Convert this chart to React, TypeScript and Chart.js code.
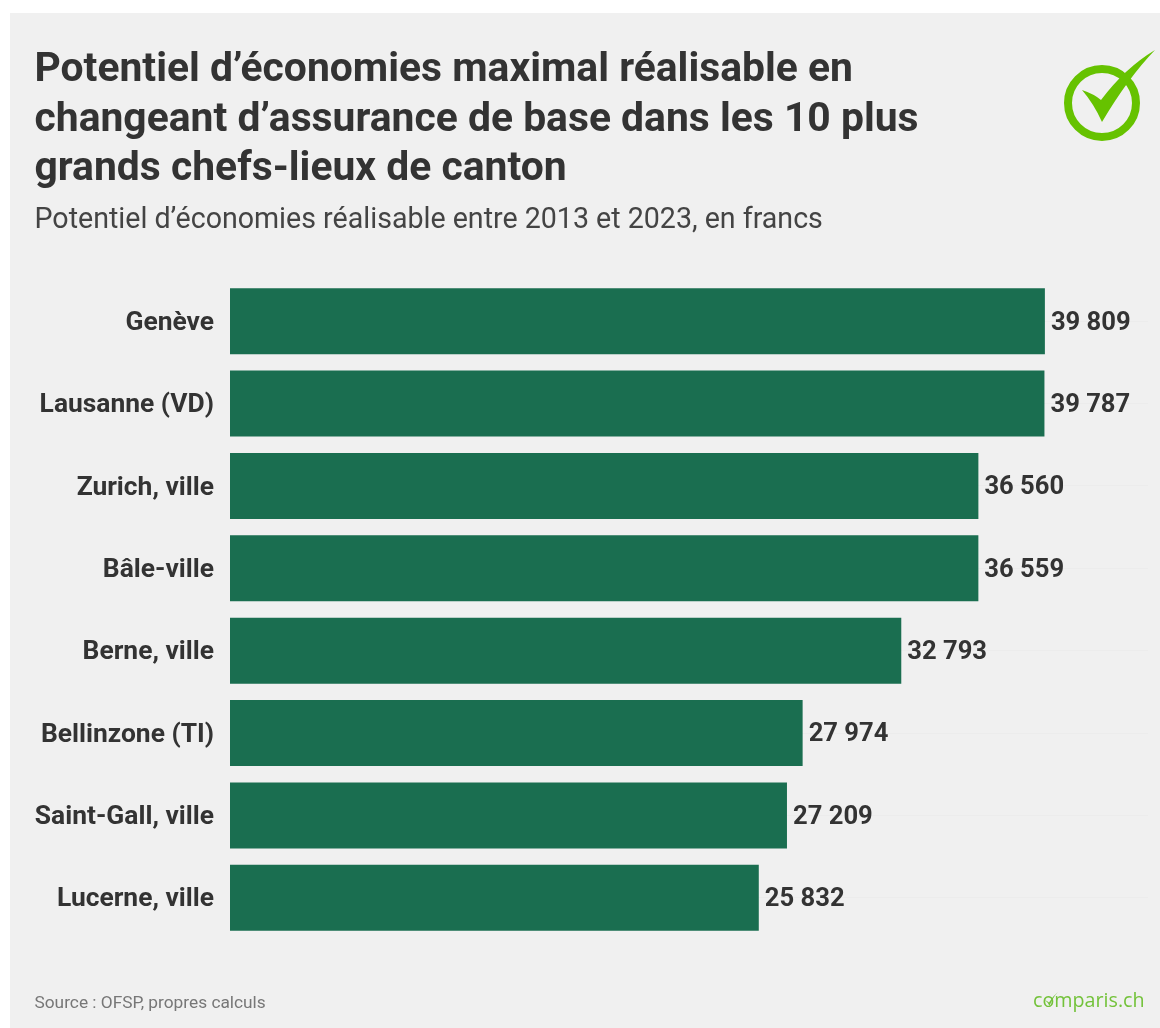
import React, { useEffect, useRef } from "react";
import { Chart, registerables } from "chart.js";

Chart.register(...registerables);

const categories = ["Genève", "Lausanne (VD)", "Zurich, ville", "Bâle-ville", "Berne, ville", "Bellinzone (TI)", "Saint-Gall, ville", "Lucerne, ville"];
const savings = [39809, 39787, 36560, 36559, 32793, 27974, 27209, 25832];
const titleLines = ["Potentiel d’économies maximal réalisable en", "changeant d’assurance de base dans les 10 plus", "grands chefs-lieux de canton"];
const subtitle = "Potentiel d’économies réalisable entre 2013 et 2023, en francs";
const source = "Source : OFSP, propres calculs";

const FONT = "Roboto, sans-serif";
const INK = "#333333";
const GREEN = "#1a6e50";
const LOGO = "#66c200";

const fmt = (v: number) => {
  const s = String(v);
  return s.slice(0, s.length - 3) + " " + s.slice(-3);
};

const valueLabels = {
  id: "valueLabels",
  afterDatasetsDraw(chart: any) {
    const { ctx } = chart;
    const meta = chart.getDatasetMeta(0);
    ctx.save();
    ctx.font = `700 25.6px ${FONT}`;
    ctx.fillStyle = INK;
    ctx.textAlign = "left";
    ctx.textBaseline = "middle";
    meta.data.forEach((bar: any, i: number) => {
      ctx.fillText(fmt(savings[i]), bar.x + 6, bar.y + 2);
    });
    ctx.restore();
  },
};

function abs(left: number, top: number, extra: React.CSSProperties = {}): React.CSSProperties {
  return { position: "absolute", left, top, whiteSpace: "nowrap", fontFamily: FONT, ...extra };
}

export default function App() {
  const ref = useRef<HTMLCanvasElement>(null);
  useEffect(() => {
    const chart = new Chart(ref.current!, {
      type: "bar",
      data: {
        labels: categories,
        datasets: [{ data: savings, backgroundColor: GREEN, barPercentage: 0.8, categoryPercentage: 1, borderWidth: 0 }],
      },
      options: {
        indexAxis: "y",
        animation: false,
        responsive: false,
        layout: { padding: { left: 0, top: 280, right: 12, bottom: 89 } },
        plugins: { legend: { display: false }, tooltip: { enabled: false }, title: { display: false } },
        scales: {
          x: { display: false, min: 0, max: 44846 },
          y: {
            afterFit: (s: any) => { s.width = 230; },
            border: { display: false },
            grid: { display: true, offset: false, drawTicks: false, color: "#ececec", lineWidth: 1 },
            ticks: { color: INK, padding: 16, labelOffset: 2, font: { family: FONT, size: 26.4, weight: 700 } },
          },
        },
      },
      plugins: [valueLabels],
    });
    return () => chart.destroy();
  }, []);

  return (
    <div style={{ position: "fixed", left: 0, top: 0, width: 1160, height: 1028, background: "#ffffff", overflow: "hidden" }}>
      <div style={{ position: "absolute", left: 10, top: 13, width: 1150, height: 1015, background: "#f0f0f0" }} />
      <canvas ref={ref} width={1160} height={1028} style={{ position: "absolute", left: 0, top: 0, width: 1160, height: 1028 }} />
      {titleLines.map((t, i) => (
        <div key={i} style={abs(34.5, 43 + i * 49.5, { fontSize: 40.85, lineHeight: "49px", fontWeight: 700, color: INK })}>{t}</div>
      ))}
      <div style={abs(34.5, 201.5, { fontSize: 28.6, lineHeight: "32px", color: "#444444" })}>{subtitle}</div>
      <div style={abs(34.5, 991, { fontSize: 17.3, lineHeight: "22px", color: "#777777" })}>{source}</div>
      <div style={abs(1033, 986, { fontSize: 19.7, lineHeight: "27px", color: "#73c23a", fontFamily: "'Open Sans', sans-serif" })}>comparis.ch</div>
      <svg style={{ position: "absolute", left: 1040, top: 985 }} width={20} height={24} viewBox="0 0 20 24">
        <path d="M5 15 Q7.5 16 9 17.5 Q12 12 18 7 Q13 12 9.5 21 Q8 17.5 5 15 Z" fill="#73c23a" />
      </svg>
      <svg style={{ position: "absolute", left: 1060, top: 48 }} width={100} height={96} viewBox="1060 48 100 96">
        <circle cx={1102} cy={103} r={34} fill="none" stroke={LOGO} strokeWidth={8} />
        <path d="M1082 90 Q1094 94 1101 100 Q1125 68 1155 50 Q1128 78 1102 122 Q1094 104 1082 90 Z" fill={LOGO} />
      </svg>
    </div>
  );
}
